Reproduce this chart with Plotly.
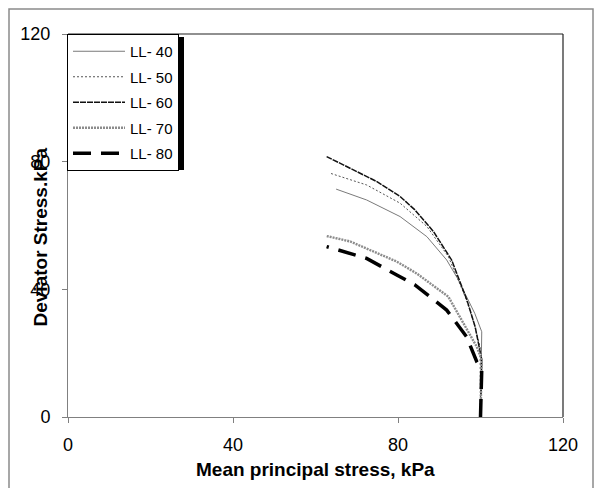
import plotly.graph_objects as go

# ---- data ----
ll40_x = [100, 100.3, 98.6, 96.6, 94.4, 91.8, 87.0, 80.5, 72.4, 65.0]
ll40_y = [0, 26.7, 32.5, 37.7, 43.5, 49.2, 56.5, 62.8, 68.0, 71.4]

ll50_x = [100, 99.9, 98.5, 96.6, 92.2, 87.0, 80.5, 72.4, 63.5]
ll50_y = [0, 22.0, 29.0, 36.7, 50.3, 59.7, 67.0, 72.7, 76.4]

ll60_x = [100, 100.3, 98.7, 96.7, 93.0, 88.6, 84.1, 80.5, 74.8, 62.7]
ll60_y = [0, 17.9, 28.3, 36.7, 49.2, 58.1, 64.9, 69.1, 73.8, 81.6]

ll70_x = [100, 100.3, 99.1, 95.8, 92.2, 84.5, 79.7, 68.4, 62.7]
ll70_y = [0, 17.9, 22.0, 29.4, 37.7, 45.0, 48.7, 55.0, 56.7]

ll80_x = [100, 100.3, 99.1, 96.6, 91.8, 84.1, 79.7, 72.4, 62.7]
ll80_y = [0, 14.7, 17.3, 25.2, 33.5, 41.4, 44.5, 49.7, 53.4]

series_names = ["LL- 40", "LL- 50", "LL- 60", "LL- 70", "LL- 80"]
tick_vals = [0, 40, 80, 120]

FONT = "Liberation Sans, Arial, sans-serif"

styles = [
    dict(color="#7a7a7a", width=1, dash="solid"),
    dict(color="#555555", width=1, dash="2px,2px"),
    dict(color="#111111", width=1.5, dash="6px,1px"),
    dict(color="#8c8c8c", width=2.4, dash="2px,1px"),
    dict(color="#000000", width=3.5, dash="18px,10px"),
]

fig = go.Figure()
data = [(ll40_x, ll40_y), (ll50_x, ll50_y), (ll60_x, ll60_y), (ll70_x, ll70_y), (ll80_x, ll80_y)]
for i, ((xs, ys), name, st) in enumerate(zip(data, series_names, styles)):
    fig.add_trace(go.Scatter(x=xs, y=ys, mode="lines", name=name, line=st,
                             legendgroup=f"g{i}"))

W, H = 594, 488
L, R, T, B = 68, 31, 34, 71
pw, ph = W - L - R, H - T - B

def px_x(p):
    return (p - L) / pw

def px_y(p):
    return (H - B - p) / ph

shapes = [
    # outer chart border
    dict(type="rect", xref="paper", yref="paper", x0=px_x(9), x1=px_x(593), y0=px_y(492), y1=px_y(9),
         line=dict(color="#8a8a8a", width=1.5), layer="below"),
    # plot area top/right border
    dict(type="line", xref="paper", yref="paper", x0=0, x1=1, y0=1, y1=1, line=dict(color="#222222", width=1.2)),
    dict(type="line", xref="paper", yref="paper", x0=1, x1=1, y0=0, y1=1, line=dict(color="#222222", width=1.2)),
    # legend shadow
    dict(type="rect", xref="paper", yref="paper", x0=px_x(71), x1=px_x(184), y0=px_y(170), y1=px_y(37),
         fillcolor="#000000", line=dict(width=0), layer="above"),
]

fig.update_layout(
    width=W, height=H,
    margin=dict(l=L, r=R, t=T, b=B, autoexpand=False),
    paper_bgcolor="white", plot_bgcolor="white",
    font=dict(family=FONT, color="black", size=18),
    showlegend=True,
    legend=dict(x=px_x(67), y=1, xanchor="left", yanchor="top",
                bgcolor="white", bordercolor="#000000", borderwidth=1,
                font=dict(family=FONT, size=15, color="black"),
                tracegroupgap=3, itemwidth=52),
    shapes=shapes,
    annotations=[
        dict(text="<b>Mean principal stress, kPa</b>", xref="paper", yref="paper",
             x=0.5, y=px_y(469), xanchor="center", yanchor="middle", showarrow=False,
             font=dict(family=FONT, size=19, color="black")),
        dict(text="<b>Deviator Stress.kPa</b>", xref="paper", yref="paper",
             x=px_x(39.5), y=px_y(237), xanchor="center", yanchor="middle", showarrow=False,
             textangle=-90, font=dict(family=FONT, size=19, color="black")),
    ],
)
fig.update_xaxes(range=[0, 120], tickvals=tick_vals, showgrid=False, zeroline=False,
                 showline=True, linecolor="#808080", linewidth=1,
                 ticks="outside", ticklen=5, tickcolor="#808080",
                 tickfont=dict(family=FONT, size=18), ticklabelstandoff=6)
fig.update_yaxes(range=[0, 120], tickvals=tick_vals, showgrid=False, zeroline=False,
                 showline=True, linecolor="#808080", linewidth=1,
                 ticks="outside", ticklen=5, tickcolor="#808080",
                 tickfont=dict(family=FONT, size=18), ticklabelstandoff=8)

fig.write_html("out.html")
